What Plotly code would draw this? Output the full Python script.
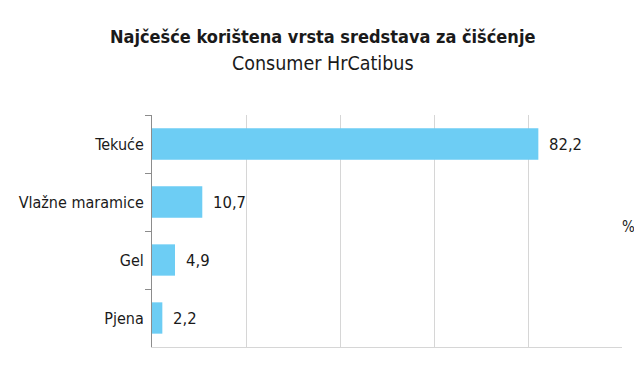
import plotly.graph_objects as go

categories = ["Tekuće", "Vlažne maramice", "Gel", "Pjena"]
values = [82.2, 10.7, 4.9, 2.2]
value_labels = ["82,2", "10,7", "4,9", "2,2"]
title_text = "Najčešće korištena vrsta sredstava za čišćenje"
subtitle_text = "Consumer HrCatibus"
unit_label = "%"

FONT = "DejaVu Sans Condensed, Liberation Sans Narrow, sans-serif"
BAR = "#6DCDF4"
GRID = "#D6D6D6"
AXIS = "#8c8c8c"
TXT = "#1a1a1a"

# the page places the figure 8px from the top-left corner (default body margin)
OFF = 8
W, H = 642 - 2 * OFF, 376 - 2 * OFF
ML, MT = 152 - OFF, 115 - OFF
MR = W - ML - (622 - 152)
MB = H - MT - (347 - 115)
plot_w = W - ML - MR
plot_h = H - MT - MB


def paper_x(px):
    return (px - OFF - ML) / plot_w


def paper_y(py):
    return (H - MB - (py - OFF)) / plot_h


fig = go.Figure()
fig.add_trace(go.Bar(
    x=values, y=categories, orientation="h",
    marker=dict(color=BAR, line=dict(width=0)),
    hoverinfo="skip",
))

for v, c, lab in zip(values, categories, value_labels):
    fig.add_annotation(x=v, y=c, xref="x", yref="y", text=lab, showarrow=False,
                       xanchor="left", xshift=9,
                       font=dict(size=16.5, color=TXT, family=FONT))

fig.add_annotation(x=paper_x(322), y=paper_y(37), xref="paper", yref="paper",
                   text="<b>" + title_text + "</b>", showarrow=False,
                   xanchor="center", yanchor="middle",
                   font=dict(size=18, color=TXT, family=FONT))
fig.add_annotation(x=paper_x(323), y=paper_y(63), xref="paper", yref="paper",
                   text=subtitle_text, showarrow=False,
                   xanchor="center", yanchor="middle",
                   font=dict(size=19.5, color=TXT, family=FONT))
fig.add_annotation(x=paper_x(628.5), y=paper_y(227), xref="paper", yref="paper",
                   text=unit_label, showarrow=False,
                   xanchor="center", yanchor="middle",
                   font=dict(size=15, color=TXT, family=FONT))

fig.update_layout(
    width=W, height=H,
    margin=dict(l=ML, r=MR, t=MT, b=MB, autoexpand=False),
    paper_bgcolor="white", plot_bgcolor="white",
    showlegend=False,
    bargap=0.46,
    font=dict(family=FONT, color=TXT, size=16),
    xaxis=dict(range=[0, 100], dtick=20, showgrid=True, gridcolor=GRID, gridwidth=1,
               showticklabels=False, zeroline=False, showline=True, linecolor=GRID,
               fixedrange=True, automargin=False),
    yaxis=dict(categoryorder="array", categoryarray=categories, autorange="reversed",
               showgrid=False, showline=True, linecolor=AXIS, linewidth=1,
               ticks="outside", tickson="boundaries", ticklen=6, tickcolor=AXIS,
               ticklabelstandoff=4, automargin=False,
               tickfont=dict(size=16, family=FONT, color=TXT)),
)

fig.write_html("out.html")
